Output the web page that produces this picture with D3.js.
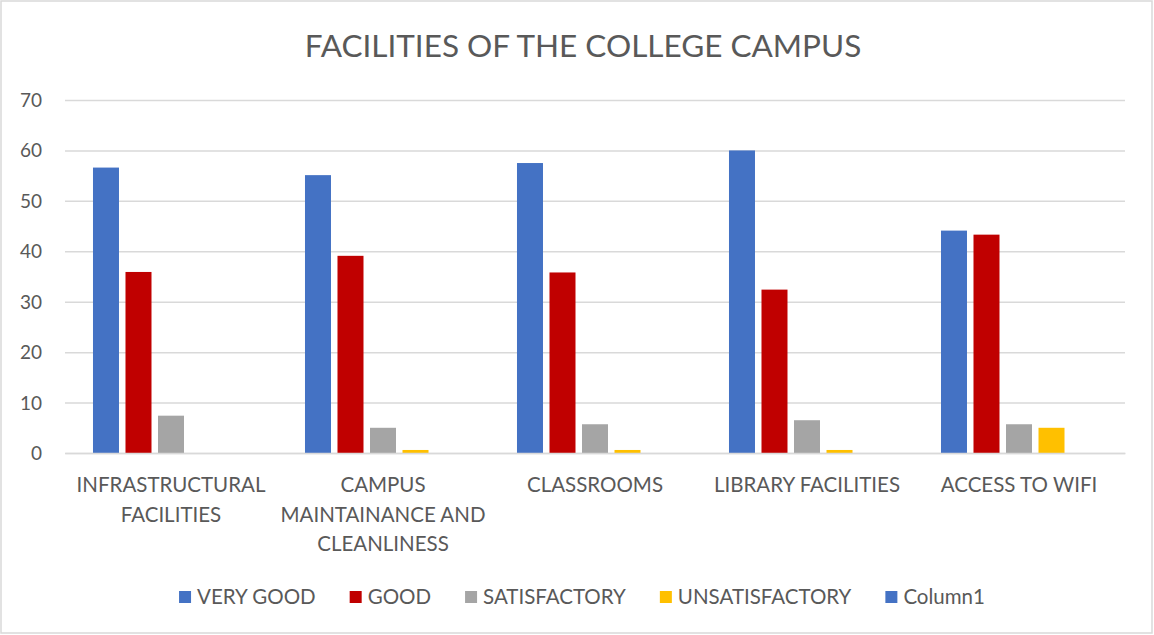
<!DOCTYPE html>
<html>
<head>
<meta charset="utf-8">
<script src="https://cdn.jsdelivr.net/npm/d3@7"></script>
<style>
  html, body { margin: 0; padding: 0; background: #fff; overflow: hidden; }
  svg { display: block; }
  text { font-family: Lato, "Open Sans", sans-serif; fill: #595959; }
</style>
</head>
<body>
<svg id="chart"></svg>
<script>
const categories = [
  'INFRASTRUCTURAL\nFACILITIES',
  'CAMPUS\nMAINTAINANCE AND\nCLEANLINESS',
  'CLASSROOMS',
  'LIBRARY FACILITIES',
  'ACCESS TO WIFI'
];
const seriesNames = ['VERY GOOD', 'GOOD', 'SATISFACTORY', 'UNSATISFACTORY', 'Column1'];
const veryGood = [56.6, 55.1, 57.5, 60.0, 44.1];
const good = [35.9, 39.1, 35.8, 32.4, 43.3];
const satisfactory = [7.4, 5.0, 5.7, 6.5, 5.7];
const unsatisfactory = [0, 0.6, 0.6, 0.6, 5.0];
const column1 = [0, 0, 0, 0, 0];
const yTicks = [0, 10, 20, 30, 40, 50, 60, 70];
const colors = ['#4472C4', '#C00000', '#A5A5A5', '#FFC000', '#4472C4'];

const width = 1154;
const height = 635;
const margin = { top: 100, right: 29, bottom: 182, left: 65 };

const svg = d3.select('#chart')
  .attr('width', width)
  .attr('height', height)
  .attr('viewBox', `0 0 ${width} ${height}`);

// outer chart border
svg.append('rect')
  .attr('x', 1).attr('y', 1)
  .attr('width', width - 3).attr('height', height - 3)
  .attr('fill', 'none')
  .attr('stroke', '#d9d9d9')
  .attr('stroke-width', 1.5);

const allSeries = [veryGood, good, satisfactory, unsatisfactory, column1];
const data = categories.map((c, i) => ({
  cat: c,
  values: allSeries.map((s, j) => ({ key: seriesNames[j], value: s[i], color: colors[j] }))
}));

const innerHeight = height - margin.top - margin.bottom;

// scales in page coordinates
const x0 = d3.scaleBand().domain(categories).range([margin.left, width - margin.right]).padding(0);
const x1 = d3.scaleBand().domain(seriesNames)
  .range([x0.bandwidth() * 0.132, x0.bandwidth() * 0.868])
  .paddingInner(0.2).paddingOuter(0);
const y = d3.scaleLinear().domain([0, 70]).range([margin.top + innerHeight, margin.top]);

// gridlines
svg.append('g')
  .attr('class', 'grid')
  .attr('transform', `translate(${margin.left}, 0)`)
  .call(d3.axisLeft(y).tickValues(yTicks).tickSize(-(width - margin.left - margin.right)).tickFormat(''))
  .call(s => s.select('.domain').remove())
  .call(s => s.selectAll('text').remove())
  .call(s => s.selectAll('line').attr('stroke', '#d9d9d9').attr('stroke-width', 1.5));

// y labels
svg.append('g')
  .attr('class', 'axis axis--y')
  .selectAll('text')
  .data(yTicks)
  .enter().append('text')
    .attr('x', margin.left - 23)
    .attr('y', d => y(d) + 7)
    .attr('text-anchor', 'end')
    .style('font-size', '19px')
    .text(d => d);

// bars
svg.selectAll('.group')
  .data(data)
  .enter().append('g')
    .attr('class', 'group')
    .attr('transform', d => `translate(${x0(d.cat)}, 0)`)
  .selectAll('rect')
  .data(d => d.values)
  .enter().append('rect')
    .attr('x', d => x1(d.key))
    .attr('y', d => y(d.value))
    .attr('width', x1.bandwidth())
    .attr('height', d => y(0) - y(d.value))
    .attr('fill', d => d.color);

// baseline
svg.append('g')
  .attr('class', 'axis axis--x')
  .attr('transform', `translate(0, ${y(0)})`)
  .call(d3.axisBottom(x0).tickSize(0).tickFormat(''))
  .call(s => s.selectAll('.tick').remove())
  .call(s => s.select('.domain').attr('stroke', '#d9d9d9').attr('stroke-width', 1.5));

// category labels, one text per line
const catLines = [];
categories.forEach(d => {
  d.split('\n').forEach((line, i) => catLines.push({ cat: d, line, i }));
});
svg.append('g')
  .attr('class', 'cat-labels')
  .selectAll('text')
  .data(catLines)
  .enter().append('text')
    .attr('x', d => x0(d.cat) + x0.bandwidth() / 2)
    .attr('y', d => y(0) + 39 + d.i * 29.5)
    .attr('text-anchor', 'middle')
    .style('font-size', '20.5px')
    .text(d => d.line);

// title
svg.append('text')
  .attr('x', width / 2 + 6)
  .attr('y', 57)
  .attr('text-anchor', 'middle')
  .style('font-size', '31.5px')
  .text('FACILITIES OF THE COLLEGE CAMPUS');

// legend
const legend = svg.append('g').attr('class', 'legend');
let lx = 0;
const items = [];
seriesNames.forEach((name, i) => {
  const sw = legend.append('rect')
    .attr('width', 12).attr('height', 12)
    .attr('fill', colors[i]);
  const txt = legend.append('text')
    .style('font-size', '20.5px')
    .text(name);
  items.push({ sw, txt, x: lx });
  lx += 18 + txt.node().getComputedTextLength() + 34;
});
lx -= 34;
const lx0 = (width - lx) / 2 + 5;
items.forEach(it => {
  it.sw.attr('x', lx0 + it.x).attr('y', 591);
  it.txt.attr('x', lx0 + it.x + 18).attr('y', 604);
});
</script>
</body>
</html>
